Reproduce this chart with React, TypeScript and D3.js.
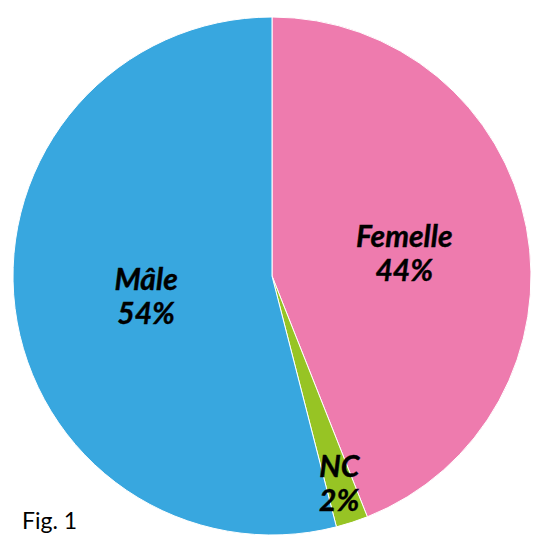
import React from "react";
import * as d3 from "d3";

const categories = ["Femelle", "NC", "Mâle"];
const values = [44, 2, 54];
const percentLabels = ["44%", "2%", "54%"];
const colors = ["#EE7BAE", "#97C424", "#38A7DF"];
const labelRadiusFactors = [0.52, 0.84, 0.49];
const labelShiftY = [2, 0, 4];

const W = 533;
const H = 539;
const cx = 272;
const cy = 276;
const R = 259;

export default function App() {
  const pie = d3
    .pie<number>()
    .sort(null)
    .value((d) => d);
  const arcs = pie(values);
  const arcGen = d3.arc<d3.PieArcDatum<number>>().innerRadius(0).outerRadius(R);
  const fontFamily = "Lato, 'Open Sans', 'DejaVu Sans', sans-serif";
  return (
    <svg
      width={W}
      height={H}
      style={{ position: "absolute", left: 0, top: 0, background: "#fff" }}
    >
      <g transform={`translate(${cx},${cy})`}>
        {arcs.map((a, i) => (
          <path
            key={categories[i]}
            d={arcGen(a) || ""}
            fill={colors[i]}
            stroke="#fff"
            strokeWidth={1}
          />
        ))}
        {arcs.map((a, i) => {
          const mid = (a.startAngle + a.endAngle) / 2;
          const r = R * labelRadiusFactors[i];
          const x = Math.sin(mid) * r;
          const y = -Math.cos(mid) * r + labelShiftY[i];
          return (
            <text
              key={"l" + i}
              x={x}
              y={y}
              textAnchor="middle"
              fontFamily={fontFamily}
              fontSize={30}
              fontWeight="bold"
              fontStyle="italic"
              fill="#000"
              stroke="#000"
              strokeWidth={0.4}
            >
              <tspan x={x} dy={-6}>
                {categories[i]}
              </tspan>
              <tspan x={x} dy={34}>
                {percentLabels[i]}
              </tspan>
            </text>
          );
        })}
      </g>
      <text x={22} y={529} fontFamily={fontFamily} fontSize={23} fill="#000">
        Fig. 1
      </text>
    </svg>
  );
}
